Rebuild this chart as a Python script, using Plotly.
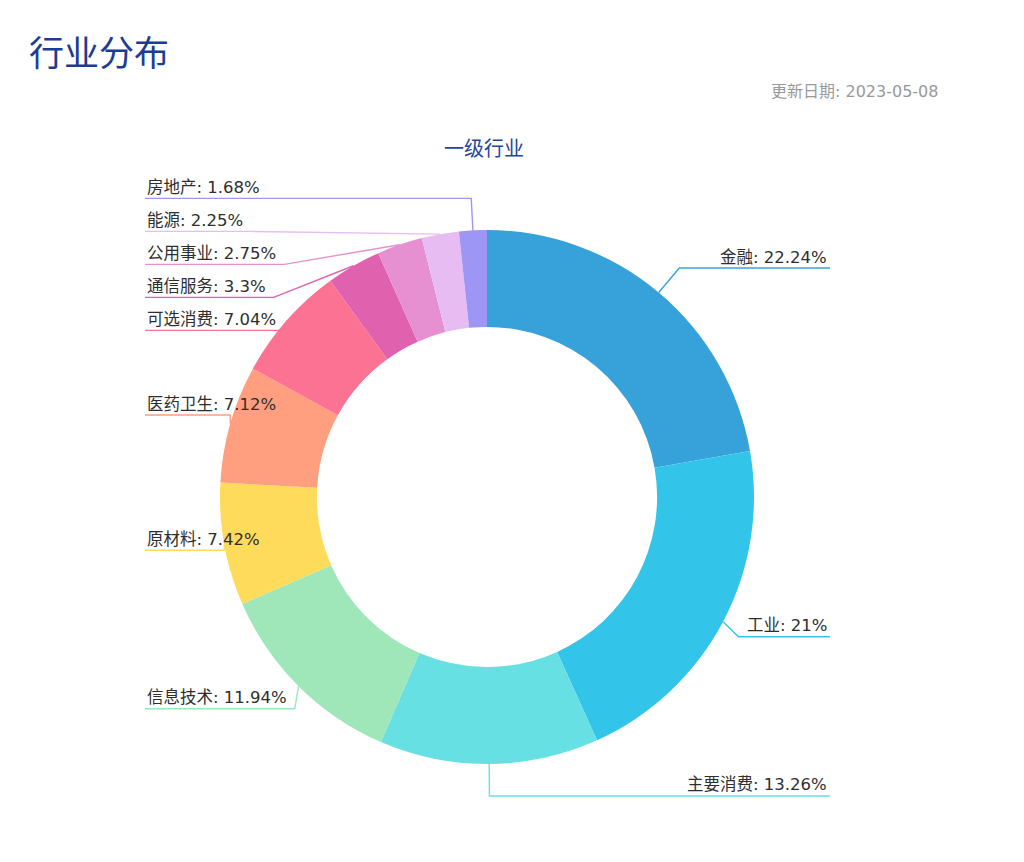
import math
import plotly.graph_objects as go

# ---------------- data ----------------
categories = ["金融", "工业", "主要消费", "信息技术", "原材料", "医药卫生",
              "可选消费", "通信服务", "公用事业", "能源", "房地产"]
values = [22.24, 21, 13.26, 11.94, 7.42, 7.12, 7.04, 3.3, 2.75, 2.25, 1.68]
colors = ["#37A2DA", "#32C5E9", "#67E0E3", "#9FE6B8", "#FFDB5C", "#FF9F7F",
          "#FB7293", "#E062AE", "#E690D1", "#E7BCF3", "#9D96F5"]
page_title = "行业分布"
update_text = "更新日期: 2023-05-08"
chart_title = "一级行业"

# ---------------- layout constants ----------------
W, H = 1024, 862
CX, CY, R = 487, 497, 267
HOLE = 0.637
L1 = 32            # first leader segment length
GAP = 33           # min vertical spacing between labels
LEFT_EDGE, RIGHT_EDGE = 145, 830
FS = 16.5
FONT = "DejaVu Sans, Noto Sans CJK SC, sans-serif"
CJK_FONT = "Noto Sans CJK SC, sans-serif"


def text_width(s, fs=FS):
    w = 0.0
    for ch in s:
        if ord(ch) > 0x2E80:
            w += fs
        elif ch.isdigit():
            w += 0.636 * fs
        elif ch == "%":
            w += 0.95 * fs
        elif ch == ":":
            w += 0.337 * fs
        else:
            w += 0.318 * fs
    return w


total = sum(values)
items = []
cum = 0.0
for cat, v, col in zip(categories, values, colors):
    mid = (cum + v / 2) / total * 2 * math.pi
    cum += v
    s, c = math.sin(mid), math.cos(mid)
    p0 = (CX + R * s, CY - R * c)
    p1 = (CX + (R + L1) * s, CY - (R + L1) * c)
    text = f"{cat}: {v:g}%"
    items.append(dict(text=text, color=col, p0=p0, p1=p1,
                      side="right" if s >= 0 else "left",
                      y=p1[1], tw=text_width(text)))

# simple vertical collision avoidance per side
for side in ("left", "right"):
    grp = sorted([it for it in items if it["side"] == side], key=lambda d: d["p1"][1])
    prev = None
    for it in grp:
        y = it["p1"][1]
        if prev is not None and y < prev + GAP:
            y = prev + GAP
        it["y"] = y
        prev = y

fig = go.Figure()

fig.add_trace(go.Pie(
    labels=categories, values=values, sort=False, direction="clockwise",
    rotation=0, hole=HOLE, textinfo="none",
    marker=dict(colors=colors, line=dict(width=0)),
    domain=dict(x=[(CX - R) / W, (CX + R) / W],
                y=[1 - (CY + R) / H, 1 - (CY - R) / H]),
    showlegend=False,
))

annotations = []
for it in items:
    p0x, p0y = it["p0"]
    p1x, p1y = it["p1"]
    y = it["y"]
    shifted = abs(y - p1y) > 1
    if it["side"] == "left":
        tend = LEFT_EDGE + it["tw"] + 10
        ex = min(p0x, tend) if shifted else min(p0x, max(p1x, tend))
        xs = [p0x, ex, LEFT_EDGE]
        annotations.append(dict(x=LEFT_EDGE, y=y - 11, xref="x", yref="y",
                                text=it["text"], showarrow=False,
                                xanchor="left", yanchor="middle",
                                font=dict(size=FS, color="#2E2E2E", family=FONT)))
    else:
        tstart = RIGHT_EDGE - 1 - it["tw"] - 10
        ex = max(p0x, tstart) if shifted else max(p0x, min(p1x, tstart))
        xs = [p0x, ex, RIGHT_EDGE]
        annotations.append(dict(x=RIGHT_EDGE - 1, y=y - 11, xref="x", yref="y",
                                text=it["text"], showarrow=False,
                                xanchor="right", yanchor="middle",
                                font=dict(size=FS, color="#2E2E2E", family=FONT)))
    ys = [p0y, y, y]
    fig.add_trace(go.Scatter(x=xs, y=ys, mode="lines",
                             line=dict(color=it["color"], width=1.4),
                             hoverinfo="skip", showlegend=False))

annotations.append(dict(x=27, y=50, xref="x", yref="y", text=page_title,
                        showarrow=False, xanchor="left", yanchor="middle",
                        font=dict(size=35, color="#1C3C94", family=CJK_FONT)))
annotations.append(dict(x=940, y=91, xref="x", yref="y", text=update_text,
                        showarrow=False, xanchor="right", yanchor="middle",
                        font=dict(size=16, color="#999999", family=FONT)))
annotations.append(dict(x=484, y=147, xref="x", yref="y", text=chart_title,
                        showarrow=False, xanchor="center", yanchor="middle",
                        font=dict(size=20, color="#24469A", family=CJK_FONT)))

fig.update_layout(
    width=W, height=H, margin=dict(l=0, r=0, t=0, b=0),
    paper_bgcolor="white", plot_bgcolor="white",
    xaxis=dict(range=[0, W], visible=False, fixedrange=True, domain=[0, 1]),
    yaxis=dict(range=[H, 0], visible=False, fixedrange=True, domain=[0, 1]),
    annotations=annotations, showlegend=False,
)

fig.write_html("out.html", config={"displayModeBar": False},
               post_script="document.body.style.margin='0';")
